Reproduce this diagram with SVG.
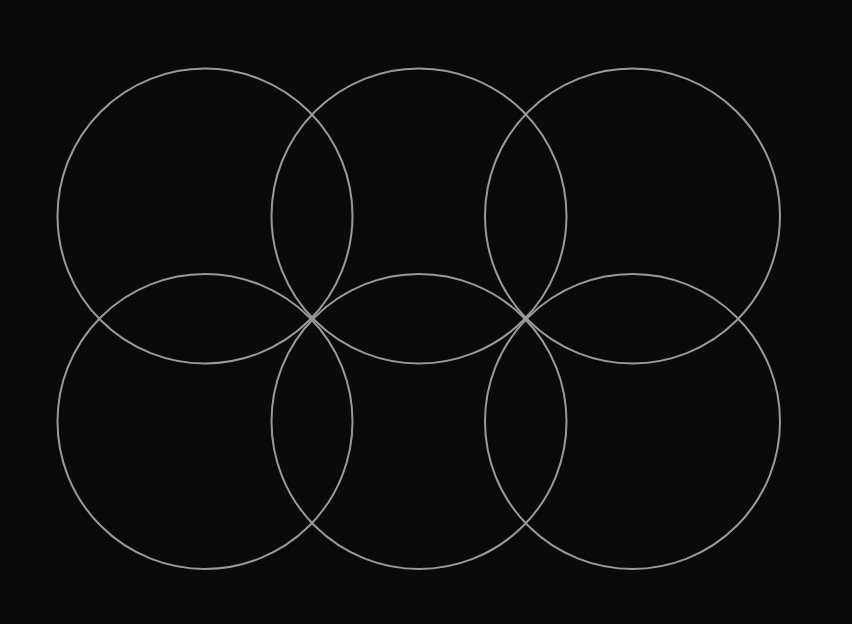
<svg xmlns="http://www.w3.org/2000/svg" width="852" height="624" viewBox="0 0 852 624">
<style>
.ring{fill:none;stroke:#9a9a9a;stroke-width:2}
</style>
<rect width="852" height="624" fill="#0a0a0a"/>
<g id="c1"><circle class="ring" cx="205" cy="216" r="147.5"/></g>
<g id="c2"><circle class="ring" cx="419" cy="216" r="147.5"/></g>
<g id="c3"><circle class="ring" cx="632.5" cy="216" r="147.5"/></g>
<g id="c4"><circle class="ring" cx="205" cy="421.5" r="147.5"/></g>
<g id="c5"><circle class="ring" cx="419" cy="421.5" r="147.5"/></g>
<g id="c6"><circle class="ring" cx="632.5" cy="421.5" r="147.5"/></g>
<g id="connectors"></g>
</svg>
